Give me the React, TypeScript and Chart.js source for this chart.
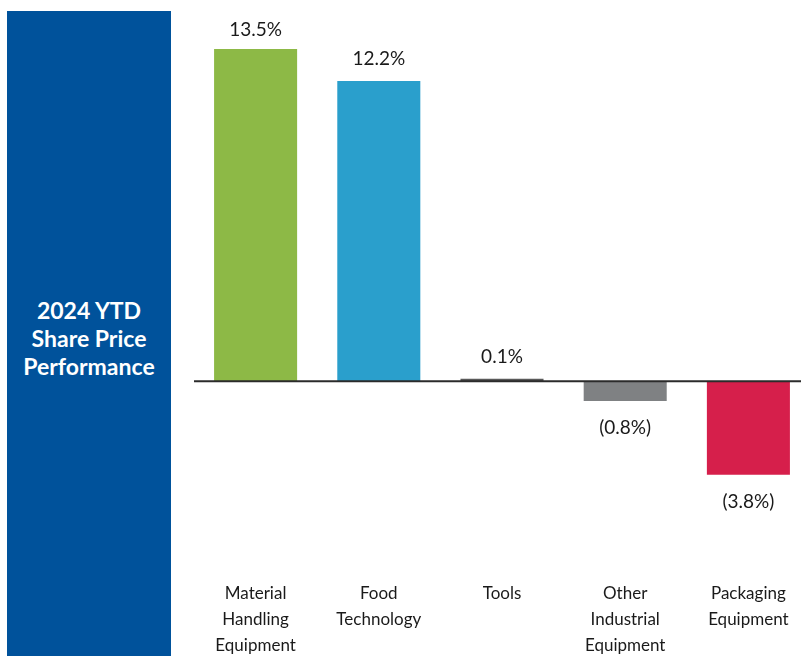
import React, { useEffect, useRef } from "react";
import { Chart, registerables } from "chart.js";

Chart.register(...registerables);

const categories: string[][] = [
  ["Material", "Handling", "Equipment"],
  ["Food", "Technology"],
  ["Tools"],
  ["Other", "Industrial", "Equipment"],
  ["Packaging", "Equipment"],
];
const performance: number[] = [13.5, 12.2, 0.1, -0.8, -3.8];
const barColors: string[] = ["#8DB946", "#2A9FCC", "#595959", "#7F8183", "#D61F4B"];
const titleLines: string[] = ["2024 YTD", "Share Price", "Performance"];

const fmt = (v: number) => (v < 0 ? `(${Math.abs(v).toFixed(1)}%)` : `${v.toFixed(1)}%`);

// Zero baseline and the value labels above/below each bar
const valueLabels = {
  id: "valueLabels",
  afterDatasetsDraw(chart: any) {
    const { ctx, scales, chartArea } = chart;
    const y0 = scales.y.getPixelForValue(0);
    ctx.save();
    ctx.strokeStyle = "#2b2b2b";
    ctx.lineWidth = 2;
    ctx.beginPath();
    ctx.moveTo(0, y0);
    ctx.lineTo(chart.width, y0);
    ctx.stroke();

    ctx.fillStyle = "#1a1a1a";
    ctx.font = "19px Lato";
    ctx.textAlign = "center";
    ctx.textBaseline = "alphabetic";
    const meta = chart.getDatasetMeta(0);
    meta.data.forEach((bar: any, i: number) => {
      const v = performance[i];
      // keep labels of tall bars inside the plot area
      const y = v >= 0 ? Math.max(bar.y - 16, chartArea.top + 24) : bar.y + 33;
      ctx.fillText(fmt(v), bar.x, y);
    });
    ctx.restore();
  },
};

export default function App() {
  const canvasRef = useRef<HTMLCanvasElement | null>(null);

  useEffect(() => {
    const canvas = canvasRef.current;
    if (!canvas) return;
    const chart = new Chart(canvas, {
      type: "bar",
      data: {
        labels: categories,
        datasets: [
          {
            data: performance,
            backgroundColor: barColors,
            borderWidth: 0,
            barPercentage: 0.674,
            categoryPercentage: 1,
          },
        ],
      },
      options: {
        animation: false,
        responsive: false,
        maintainAspectRatio: false,
        layout: { padding: { top: 12, left: 0, right: 0, bottom: 0 } },
        plugins: { legend: { display: false }, tooltip: { enabled: false } },
        scales: {
          x: {
            grid: { display: false, drawTicks: false },
            border: { display: false },
            ticks: {
              color: "#1a1a1a",
              font: { family: "Lato", size: 17, lineHeight: 1.53 },
              padding: 4,
              maxRotation: 0,
              autoSkip: false,
            },
          },
          y: {
            display: false,
            min: -7.95,
            max: 15,
          },
        },
      },
      plugins: [valueLabels],
    });
    return () => chart.destroy();
  }, []);

  return (
    <div
      style={{
        position: "fixed",
        left: 0,
        top: 0,
        width: 801,
        height: 656,
        overflow: "hidden",
        background: "#ffffff",
      }}
    >
      <div
        style={{
          position: "absolute",
          left: 7,
          top: 11,
          width: 164,
          height: 645,
          background: "#00529B",
          color: "#ffffff",
          fontFamily: "Lato",
          fontWeight: 700,
          fontSize: 23,
          lineHeight: "28px",
          display: "flex",
          flexDirection: "column",
          justifyContent: "center",
          alignItems: "center",
          textAlign: "center",
          paddingTop: 9,
          boxSizing: "border-box",
        }}
      >
        {titleLines.map((t) => (
          <div key={t}>{t}</div>
        ))}
      </div>
      <div style={{ position: "absolute", left: 194, top: 0, width: 616, height: 663 }}>
        <canvas ref={canvasRef} width={616} height={663} style={{ display: "block" }} />
      </div>
    </div>
  );
}
